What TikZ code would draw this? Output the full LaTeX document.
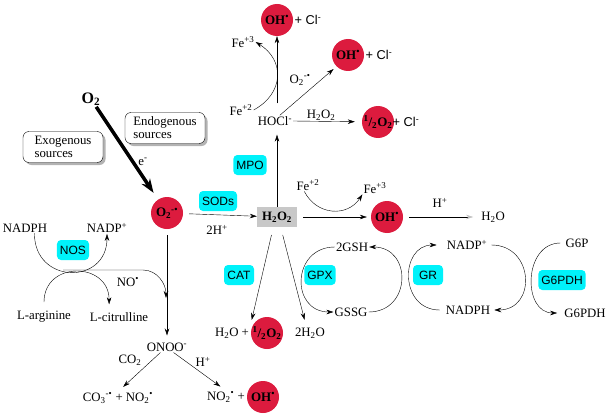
\documentclass[tikz,border=0pt]{standalone}
\usepackage{fontspec}
\setmainfont{Liberation Serif}
\setsansfont{Liberation Sans}
\usetikzlibrary{calc,arrows.meta,shadows}
\definecolor{radred}{RGB}{220,27,62}
\definecolor{enzcyan}{RGB}{0,242,250}
\definecolor{boxgray}{RGB}{200,200,200}
\newcommand{\lowr}[1]{\textsubscript{#1}}
\newcommand{\uppr}[1]{\textsuperscript{#1}}

\begin{document}
\begin{tikzpicture}[x=1pt, y=1pt, >={Stealth[length=7pt,width=4.5pt]},
    every node/.style={font=\fontsize{12.8}{14}\selectfont, inner sep=1pt},
    radical/.style={circle, fill=radred, minimum size=32pt, inner sep=0pt,
        font=\fontsize{13}{14}\selectfont\bfseries},
    enzyme/.style={fill=enzcyan, rounded corners=4pt, minimum height=20pt,
        minimum width=30pt, inner xsep=3pt, font=\fontsize{12}{14}\selectfont\sffamily},
    srcbox/.style={draw, fill=white, rounded corners=6pt, align=left,
        drop shadow={shadow xshift=2.5pt, shadow yshift=-2.5pt, opacity=.6},
        minimum width=80pt, minimum height=31pt, inner sep=3pt,
        font=\fontsize{12.8}{13}\selectfont}]
    \useasboundingbox (0,0) rectangle (609,413);

    % superoxide
    \node[font=\fontsize{16}{18}\selectfont\bfseries] (o2) at (91,314) {O\lowr{2}};
    \node[radical] (sup) at (167,200) {O\lowr{2}\uppr{-\textbullet}};
    \node[srcbox] (exo) at (63,266) {Exogenous\\sources};
    \node[srcbox] (endo) at (165,285) {Endogenous\\sources};
    \node (elec) at (143,251) {e\uppr{-}};
    \node[enzyme] (sods) at (218,212) {SODs};
    \node (hplusa) at (217,183) {2H\uppr{+}};
    \node[fill=boxgray, minimum width=40pt, minimum height=20pt,
        font=\fontsize{12.8}{14}\selectfont\bfseries] (h2o2) at (277,196) {H\lowr{2}O\lowr{2}};

    % MPO branch
    \node[enzyme] (mpo) at (250,248) {MPO};
    \node (hocl) at (275,292) {HOCl\uppr{-}};
    \node[radical] (ohtop) at (277,393) {OH\uppr{\textbullet}};
    \node[font=\fontsize{12.8}{14}\selectfont\sffamily] (cltop) at (308,393) {+ Cl\uppr{-}};
    \node (fetwo) at (241,303) {Fe\uppr{+2}};
    \node (fethree) at (243,371) {Fe\uppr{+3}};
    \node[radical] (ohmid) at (348,358) {OH\uppr{\textbullet}};
    \node[font=\fontsize{12.8}{14}\selectfont\sffamily] (clmid) at (379,358) {+ Cl\uppr{-}};
    \node (supb) at (300,333) {O\lowr{2}\uppr{-\textbullet}};
    \node[radical] (halfa) at (378,291) {\uppr{1}/\lowr{2}O\lowr{2}};
    \node[font=\fontsize{12.8}{14}\selectfont\sffamily] (clhalf) at (406,291) {+ Cl\uppr{-}};
    \node (h2o2b) at (321,298) {H\lowr{2}O\lowr{2}};

    % Fenton
    \node (fetwob) at (308,228) {Fe\uppr{+2}};
    \node (fethreeb) at (375,225) {Fe\uppr{+3}};
    \node[radical] (ohr) at (387,196) {OH\uppr{\textbullet}};
    \node (hplusb) at (440,210) {H\uppr{+}};
    \node (water) at (493,196) {H\lowr{2}O};

    % glutathione cycles
    \node (gsh) at (352,166) {2GSH};
    \node (gssg) at (351,101) {GSSG};
    \node[enzyme] (gpx) at (320,138) {GPX};
    \node[enzyme] (gr) at (428,138) {GR};
    \node (nadpp) at (467,168) {NADP\uppr{+}};
    \node (nadph) at (468,103) {NADPH};
    \node (gsixp) at (577,170) {G6P};
    \node (gsixpdh) at (585,100) {G6PDH};
    \node[enzyme] (gpdh) at (562,133) {G6PDH};

    % catalase
    \node[enzyme] (cat) at (239,138) {CAT};
    \node (wata) at (232,80) {H\lowr{2}O +};
    \node[radical] (halfb) at (267,80) {\uppr{1}/\lowr{2}O\lowr{2}};
    \node (watb) at (310,80) {2H\lowr{2}O};

    % NOS and peroxynitrite
    \node (nadphl) at (25,185) {NADPH};
    \node (nadpl) at (107,185) {NADP\uppr{+}};
    \node[enzyme] (nos) at (73,163) {NOS};
    \node (larg) at (44,96) {L-arginine};
    \node (lcit) at (119,96) {L-citrulline};
    \node (nodot) at (128,131) {NO\uppr{\textbullet}};
    \node (onoo) at (167,66) {ONOO\uppr{-}};
    \node (cotwo) at (130,53) {CO\lowr{2}};
    \node (hplusc) at (203,51) {H\uppr{+}};
    \node (carb) at (118,15) {CO\lowr{3}\uppr{-\textbullet} + NO\lowr{2}\uppr{\textbullet}};
    \node (nitro) at (226,16) {NO\lowr{2}\uppr{\textbullet} +};
    \node[radical] (ohbot) at (263,16) {OH\uppr{\textbullet}};
    \coordinate (noa) at (63,143);
    \coordinate (nob) at (143,143);
    \coordinate (noc) at (166,115);

    \draw[-{Stealth[length=14pt,width=10pt]}, line width=3.5pt, shorten >=8pt] (o2) -- (sup);
    \draw[->, shorten <=6pt] (sup) -- (h2o2);
    \draw[->, shorten >=8pt] (h2o2.north) -- (h2o2.north |- hocl.south);
    \draw[->, shorten <=12pt] (ohtop |- hocl.north) -- (ohtop);
    \draw[->] (fetwo.east) to[bend right=60, looseness=1.3] (fethree.east);
    \draw[->, shorten >=4pt] (hocl.50) -- (ohmid.225);
    \draw[->, shorten >=7pt] (hocl.east) -- (halfa);
    \draw[->, shorten <=6pt, shorten >=4pt] (h2o2) -- (ohr);
    \draw[->] (fetwob.240) to[bend right=60, looseness=1.2] (fethreeb.south west);
    \draw[-{Stealth[length=7pt,width=4.5pt,color=black!25]}, shorten <=6pt, shorten >=7pt] (ohr) -- (water);

    \draw[->] (gsh.west) to[out=180, in=180, looseness=1.7] (gssg.west);
    \draw[->] (gssg.east) to[out=0, in=0, looseness=1.7] (gsh.east);
    \draw[->, shorten <=5pt, shorten >=9pt] (nadph.west) to[out=180, in=180, looseness=1.8] (nadpp.west);
    \draw[->, shorten <=3pt, shorten >=3pt] (nadpp.east) to[out=0, in=0, looseness=1.8] (nadph.east);
    \draw[->, shorten <=4pt, shorten >=6pt] (gsixp.west) to[out=180, in=180, looseness=1.5] (gsixpdh.west);

    \draw[->, shorten <=8pt, shorten >=7pt] (h2o2.250) -- (wata.north east);
    \draw[->, shorten <=8pt, shorten >=7pt] (h2o2.290) -- (watb.120);

    \draw[->] (nadphl.-30) to[out=-90, in=-90, looseness=1.8] (nadpl.south);
    \draw[->] (noa) -- (nob) to[out=0, in=90] (noc);
    \draw[->, shorten <=8pt, shorten >=7pt] (larg.north) to[out=90, in=90, looseness=1.95] (lcit.150);
    \draw[->, shorten <=6pt, shorten >=6pt] (sup) -- (sup |- onoo.north);
    \draw[->, shorten >=7pt] (onoo.220) -- (carb.north);
    \draw[->, shorten >=7pt] (onoo.320) -- (nitro.north);
\end{tikzpicture}
\end{document}
